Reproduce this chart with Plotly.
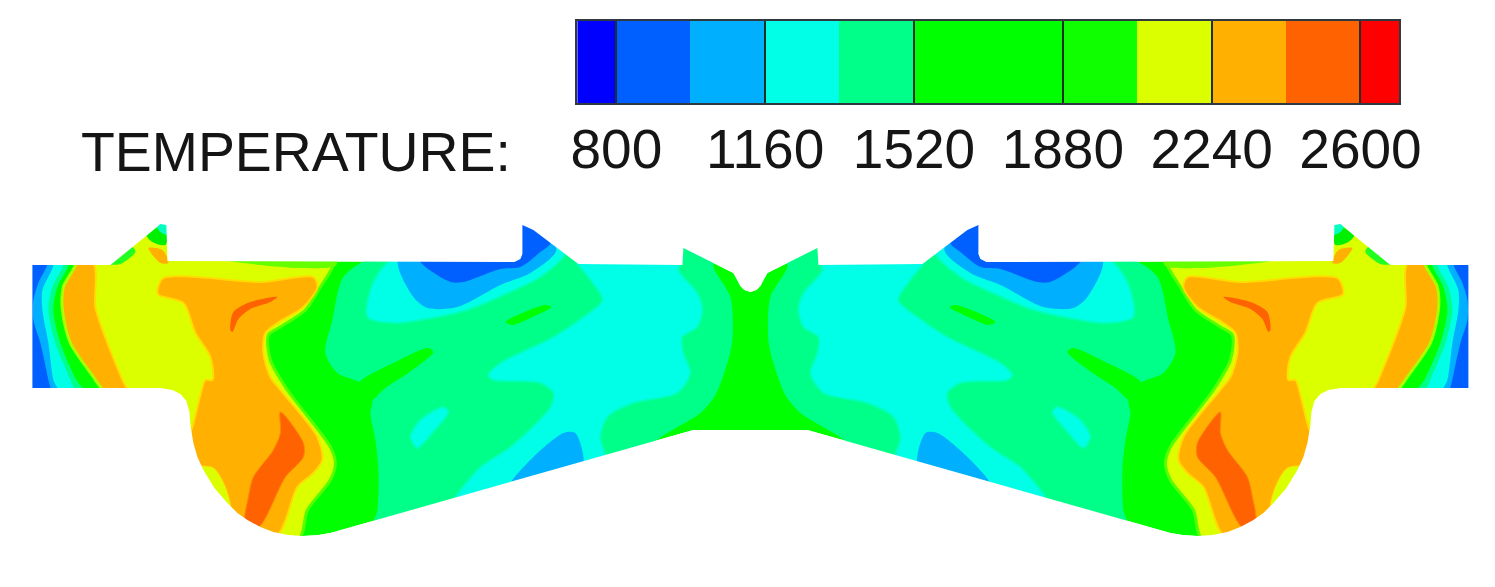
import plotly.graph_objects as go

# Temperature scale
BAND_EDGES = [705.8, 800, 980, 1160, 1340, 1520, 1700, 1880, 2060, 2240, 2420, 2600, 2694.2]
BAND_COLORS = ["#0000ff", "#0060ff", "#00b0ff", "#00ffe6", "#00ff88", "#00ff00", "#00ff00",
               "#10ff00", "#dcff00", "#ffb000", "#ff6200", "#ff0000"]
TICKS = [800, 1160, 1520, 1880, 2240, 2600]
TITLE = "TEMPERATURE:"

# Left half of the section; the right half mirrors it about x = 750
SECTION = [(750, 430), (693, 430), (330, 533), (318, 535), (303, 536), (288, 535), (273, 532), (260, 527), (247, 520),
           (237, 513), (227, 503), (214, 488), (203, 470), (197, 457), (193, 443), (190, 425), (189, 412), (186, 401),
           (180, 394), (172, 390), (160, 388), (32, 388), (32, 265), (110, 265),
           (147, 235), (160, 224), (166, 225), (167, 261), (514, 262), (520, 259), (522, 254), (522, 225),
           (533, 230), (578, 264), (682, 265), (683, 248), (733, 273), (737, 280), (740, 286), (744, 290), (750, 292)]

YELLOW = [(20, 250), (333, 250), (333, 265), (320, 287), (305, 310), (280, 327), (268, 335), (270, 360), (287, 390),
          (330, 447), (335, 463), (330, 480), (307, 510), (298, 540), (200, 545), (20, 545)]
ORANGE_BIG = [(157, 290), (163, 278), (260, 282), (313, 277), (317, 287), (303, 307), (277, 323), (265, 333),
              (263, 353), (270, 377), (280, 390), (317, 437), (322, 460), (313, 473), (297, 487), (277, 535),
              (240, 535), (195, 480), (185, 445), (192, 427), (200, 395), (205, 380), (212, 380), (210, 357),
              (195, 333), (183, 303), (158, 295)]
YELLOW_PATCH = [(195, 467), (213, 468), (225, 487), (230, 512), (215, 510), (190, 475)]
ORANGE_LEFT = [(20, 262), (92, 262), (95, 307), (107, 343), (122, 380), (128, 395), (20, 395)]
DARK_STREAK_TOP = [(230, 330), (233, 312), (250, 302), (277, 297), (270, 302), (250, 309), (238, 319), (232, 332)]
DARK_MAIN = [(280, 412), (303, 443), (303, 457), (285, 477), (258, 527), (245, 522), (248, 497), (253, 477),
             (273, 450), (280, 433)]
GREEN_LEFT = [(20, 262), (75, 262), (63, 287), (62, 310), (70, 343), (95, 380), (102, 392), (20, 392)]
MINT_LEFT = [(20, 262), (68, 262), (57, 287), (53, 310), (60, 343), (76, 380), (84, 392), (20, 392)]
CYAN_LEFT = [(20, 262), (63, 262), (52, 287), (48, 310), (55, 343), (70, 380), (74, 392), (20, 392)]
SKY_LEFT = [(20, 262), (53, 262), (42, 290), (42, 310), (48, 343), (53, 380), (58, 392), (20, 392)]
BLUE_LEFT = [(20, 262), (47, 262), (38, 283), (33, 300), (33, 320), (40, 343), (48, 380), (50, 392), (20, 392)]

GREEN_TOP_STRIP = [(230, 261), (290, 260), (337, 260), (335, 266), (300, 268), (260, 265)]
TOOTH_GREEN_EDGE = [(108, 264), (132, 247), (135, 252), (120, 264)]
TOOTH_GREEN_TIP = [(146, 235), (158, 228), (167, 233), (165, 245), (152, 242)]
TOOTH_CYAN_TIP = [(155, 222), (168, 222), (168, 235), (160, 232)]
TOOTH_ORANGE = [(148, 248), (162, 250), (168, 263), (160, 263)]

MINT_MAIN = [(370, 258), (343, 277), (332, 320), (325, 353), (337, 373), (360, 383), (372, 400), (370, 413),
             (375, 440), (378, 470), (377, 510), (372, 530), (640, 460), (650, 445), (667, 433), (700, 413),
             (715, 395), (727, 363), (732, 340), (730, 297), (713, 267), (715, 255), (683, 240), (520, 220)]
CYAN_MAIN = [(575, 258), (590, 280), (602, 300), (583, 317), (553, 337), (500, 363), (488, 375), (493, 380),
             (540, 383), (553, 393), (550, 407), (510, 447), (480, 467), (455, 497), (450, 508), (605, 465),
             (600, 437), (607, 417), (633, 403), (677, 393), (690, 373), (683, 353), (682, 337), (697, 327),
             (702, 310), (697, 293), (678, 270), (682, 258)]
CYAN_UPPER = [(393, 258), (373, 282), (367, 317), (393, 323), (420, 320), (467, 310), (510, 292), (540, 277),
              (565, 252), (530, 225)]
CYAN_SPOT = [(410, 437), (420, 420), (443, 407), (448, 412), (432, 433), (417, 448)]
SKY_UPPER = [(398, 258), (413, 297), (427, 308), (457, 307), (500, 285), (530, 273), (556, 250), (535, 222)]
SKY_LOWER = [(510, 485), (533, 457), (563, 433), (575, 433), (582, 468)]
BLUE_UPPER = [(418, 258), (450, 282), (463, 282), (500, 269), (520, 267), (540, 252), (550, 243), (530, 222)]
GREEN_STREAK_LOW = [(358, 384), (395, 362), (428, 348), (433, 352), (412, 370), (385, 388), (368, 402)]
GREEN_STREAK_HIGH = [(505, 322), (515, 316), (545, 305), (551, 307), (530, 318), (512, 325)]

REGIONS = [
    (YELLOW, "#dcff00", "#55ff00", 3), (GREEN_TOP_STRIP, "#66ff00", None, 0),
    (ORANGE_LEFT, "#ffb000", "#ffdc00", 2), (ORANGE_BIG, "#ffb000", "#ffdc00", 2),
    (YELLOW_PATCH, "#dcff00", "#ffdc00", 1), (DARK_STREAK_TOP, "#ff6200", None, 0), (DARK_MAIN, "#ff6200", "#ff8800", 1),
    (GREEN_LEFT, "#00ff00", "#aaff00", 3), (MINT_LEFT, "#00ff88", None, 0), (CYAN_LEFT, "#00ffe6", None, 0),
    (SKY_LEFT, "#00b0ff", None, 0), (BLUE_LEFT, "#0060ff", None, 0),
    (TOOTH_GREEN_EDGE, "#20ff20", None, 0), (TOOTH_ORANGE, "#ffb000", None, 0),
    (TOOTH_GREEN_TIP, "#00f000", None, 0), (TOOTH_CYAN_TIP, "#00ffc0", None, 0),
    (MINT_MAIN, "#00ff88", None, 0), (GREEN_STREAK_LOW, "#00ff00", None, 0), (GREEN_STREAK_HIGH, "#00ff00", None, 0),
    (CYAN_MAIN, "#00ffe6", "#00ffb8", 2), (CYAN_UPPER, "#00ffe6", "#00ffb8", 2), (CYAN_SPOT, "#00ffe6", "#00ffb8", 2),
    (SKY_UPPER, "#00b0ff", None, 0), (SKY_LOWER, "#00b0ff", None, 0), (BLUE_UPPER, "#0060ff", None, 0),
]

CENTER = 750
# Where the plot area lands on the page (measured from the first render)
PLOT_LEFT, PLOT_WIDTH = 14.6, 1466.0
PLOT_TOP, PLOT_HEIGHT = 8.0, 587.0


def mirror(points):
    return [(2 * CENTER - x, y) for x, y in points]


def add_region(fig, points, fill, stroke=None, width=0, shape="spline"):
    xs = [p[0] for p in points] + [points[0][0]]
    ys = [p[1] for p in points] + [points[0][1]]
    fig.add_trace(go.Scatter(x=xs, y=ys, mode="lines", fill="toself", fillcolor=fill, hoverinfo="skip",
                             line=dict(color=stroke if stroke else fill, width=width if stroke else 0,
                                       shape=shape, smoothing=0.8),
                             xaxis="x", yaxis="y", showlegend=False))


fig = go.Figure()
full_section = SECTION + mirror(SECTION)[::-1]
add_region(fig, full_section, "#00ff00", shape="linear")
for pts, fill, stroke, width in REGIONS:
    add_region(fig, pts, fill, stroke, width)
    add_region(fig, mirror(pts), fill, stroke, width)

outer = [(0, 195), (1500, 195), (1500, 610), (0, 610), (0, 195)]
ring = full_section[::-1] + [full_section[-1]]
mask_x = [p[0] for p in outer] + [None] + [p[0] for p in ring]
mask_y = [p[1] for p in outer] + [None] + [p[1] for p in ring]
fig.add_trace(go.Scatter(x=mask_x, y=mask_y, mode="lines", fill="toself", fillcolor="#ffffff", hoverinfo="skip",
                         line=dict(color="#ffffff", width=0), xaxis="x", yaxis="y", showlegend=False))

for lo, hi, color in zip(BAND_EDGES[:-1], BAND_EDGES[1:], BAND_COLORS):
    fig.add_trace(go.Bar(x=[hi - lo], base=[lo], y=[0], orientation="h", width=1, marker=dict(color=color, line=dict(width=0)),
                         xaxis="x2", yaxis="y2", showlegend=False, hoverinfo="skip"))

fig.add_annotation(x=79, y=152, xref="x", yref="y", text=TITLE, showarrow=False, xanchor="left", yanchor="middle",
                   font=dict(family="Liberation Sans", size=55.4, color="#151515"))

fig.update_layout(
    width=1495, height=587, margin=dict(l=0, r=0, t=0, b=0), paper_bgcolor="white", plot_bgcolor="rgba(0,0,0,0)",
    barmode="overlay", bargap=0, showlegend=False,
    font=dict(family="Liberation Sans", color="#151515"),
    xaxis=dict(domain=[0, 1], range=[PLOT_LEFT, PLOT_LEFT + PLOT_WIDTH], visible=False, fixedrange=True),
    yaxis=dict(domain=[0, 1], range=[PLOT_TOP + PLOT_HEIGHT, PLOT_TOP], visible=False, fixedrange=True),
    xaxis2=dict(domain=[(577 - PLOT_LEFT) / PLOT_WIDTH, (1399 - PLOT_LEFT) / PLOT_WIDTH],
                range=[BAND_EDGES[0], BAND_EDGES[-1]], anchor="y2",
                tickvals=TICKS, ticks="inside", ticklen=82, tickcolor="#203028", tickwidth=2,
                tickfont=dict(size=55, family="Liberation Sans", color="#151515"), ticklabelstandoff=-3,
                showgrid=False, zeroline=False, showline=True, linecolor="#303840", linewidth=2, mirror=True,
                fixedrange=True),
    yaxis2=dict(domain=[1 - (103 - PLOT_TOP) / PLOT_HEIGHT, 1 - (21 - PLOT_TOP) / PLOT_HEIGHT], range=[-0.5, 0.5],
                anchor="x2", showticklabels=False, ticks="",
                showgrid=False, zeroline=False, showline=True, linecolor="#303840", linewidth=2, mirror=True,
                fixedrange=True),
)
fig.write_html("out.html")
